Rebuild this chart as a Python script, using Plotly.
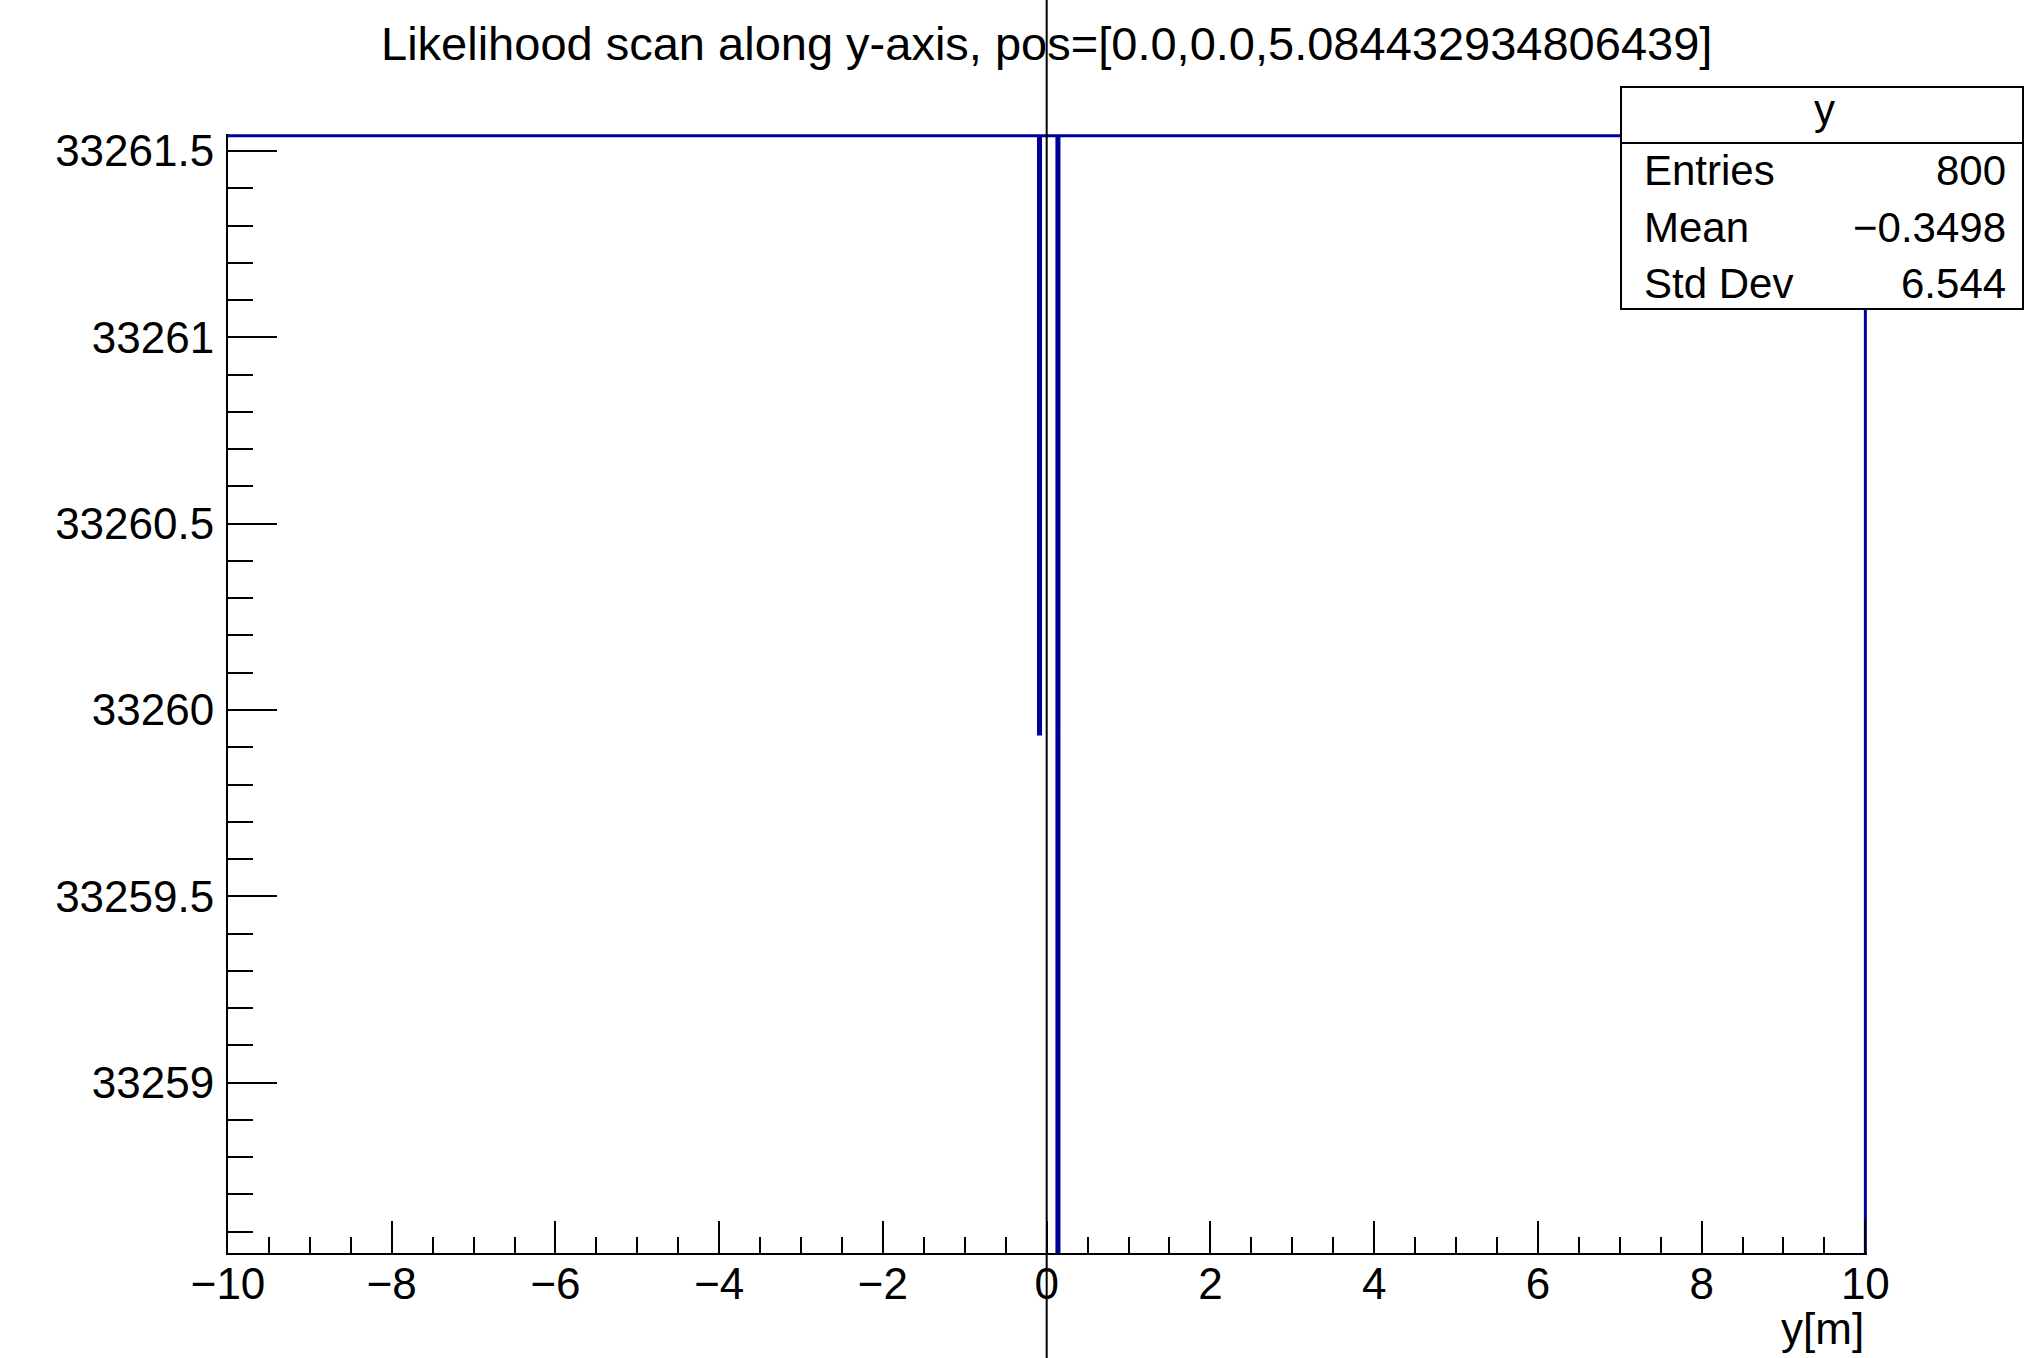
import plotly.graph_objects as go

# Histogram contents (bin edges in m, bin contents) of the likelihood scan
bin_edges = [-10.0, -0.1, -0.075, 0.125, 0.15, 10.0]
bin_values = [33261.541, 33259.936, 33261.541, 33258.0, 33261.541]

# Axis settings
x_range = [-10.0, 10.02]
y_range = [33258.543, 33261.5457]
y_tick_vals = [33259.0, 33259.5, 33260.0, 33260.5, 33261.0, 33261.5]
y_tick_text = ["33259", "33259.5", "33260", "33260.5", "33261", "33261.5"]

# Statistics box
stats_title = "y"
stats_labels = ["Entries", "Mean", "Std Dev"]
stats_values = ["800", "\u22120.3498", "6.544"]

title_text = "Likelihood scan along y-axis, pos=[0.0,0.0,5.084432934806439]"
x_title = "y[m]"

FONT = "Liberation Sans, Arial, Helvetica, sans-serif"
HIST_COLOR = "#000099"

W_PX, H_PX = 2024, 1358
L, R, T, B = 228, 1867, 134, 1253


def px_x(p):
    return (p - L) / (R - L)


def px_y(p):
    return (B - p) / (B - T)


# Step outline of the histogram, dropping to the frame bottom at the right end
xs, ys = [], []
for i, v in enumerate(bin_values):
    xs += [bin_edges[i], bin_edges[i + 1]]
    ys += [v, v]
xs.append(bin_edges[-1])
ys.append(y_range[0])

fig = go.Figure()
fig.add_trace(go.Scatter(
    x=xs, y=ys, mode="lines",
    line=dict(color=HIST_COLOR, width=3),
    hoverinfo="skip", showlegend=False,
))

shapes = [
    # vertical marker at y = 0 across the whole canvas
    dict(type="line", xref="x", yref="paper", x0=0, x1=0,
         y0=px_y(H_PX), y1=px_y(0), line=dict(color="black", width=2),
         layer="above"),
    # stats box
    dict(type="rect", xref="paper", yref="paper",
         x0=px_x(1621), x1=px_x(2023), y0=px_y(309), y1=px_y(87),
         fillcolor="white", line=dict(color="black", width=2), layer="above"),
    dict(type="line", xref="paper", yref="paper",
         x0=px_x(1621), x1=px_x(2023), y0=px_y(143), y1=px_y(143),
         line=dict(color="black", width=2), layer="above"),
]

annotations = [
    dict(text=title_text, xref="paper", yref="paper", x=px_x(1046), y=px_y(44),
         xanchor="center", yanchor="middle", showarrow=False,
         font=dict(family=FONT, size=47, color="black")),
    dict(text=x_title, xref="paper", yref="paper", x=px_x(1866), y=px_y(1328),
         xanchor="right", yanchor="middle", showarrow=False,
         font=dict(family=FONT, size=44, color="black")),
    dict(text=stats_title, xref="paper", yref="paper", x=px_x(1824), y=px_y(110),
         xanchor="center", yanchor="middle", showarrow=False,
         font=dict(family=FONT, size=42, color="black")),
]
row_y = [171, 227, 283]
for lab, val, yy in zip(stats_labels, stats_values, row_y):
    annotations.append(dict(text=lab, xref="paper", yref="paper", x=px_x(1642), y=px_y(yy),
                            xanchor="left", yanchor="middle", showarrow=False,
                            font=dict(family=FONT, size=42, color="black")))
    annotations.append(dict(text=val, xref="paper", yref="paper", x=px_x(2008), y=px_y(yy),
                            xanchor="right", yanchor="middle", showarrow=False,
                            font=dict(family=FONT, size=42, color="black")))

fig.update_layout(
    width=W_PX, height=H_PX, autosize=False,
    margin=dict(l=L, r=W_PX - R, t=T, b=H_PX - B, pad=0),
    paper_bgcolor="white", plot_bgcolor="white",
    font=dict(family=FONT, color="black"),
    shapes=shapes, annotations=annotations,
    xaxis=dict(
        range=x_range, tickmode="linear", tick0=-10, dtick=2,
        ticks="inside", ticklen=32, tickwidth=2, tickcolor="black",
        showline=True, linecolor="black", linewidth=2,
        showgrid=False, zeroline=False,
        tickfont=dict(family=FONT, size=44, color="black"),
        ticklabelstandoff=-9,
        minor=dict(ticks="inside", ticklen=16, tickwidth=2, tickcolor="black",
                   tick0=-10, dtick=0.5, showgrid=False),
    ),
    yaxis=dict(
        range=y_range, tickmode="array", tickvals=y_tick_vals, ticktext=y_tick_text,
        ticks="inside", ticklen=49, tickwidth=2, tickcolor="black",
        showline=True, linecolor="black", linewidth=2,
        showgrid=False, zeroline=False,
        tickfont=dict(family=FONT, size=44, color="black"),
        ticklabelstandoff=3,
        minor=dict(ticks="inside", ticklen=25, tickwidth=2, tickcolor="black",
                   tickmode="linear", tick0=33259, dtick=0.1, showgrid=False),
    ),
)

fig.write_html("out.html")
